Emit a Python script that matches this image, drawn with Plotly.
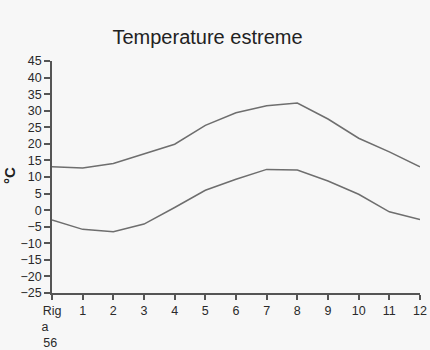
import plotly.graph_objects as go

months = [0, 1, 2, 3, 4, 5, 6, 7, 8, 9, 10, 11, 12]
tick_labels = ["Rig<br>a\u00a0\u00a0\u00a0\u00a0<br>56\u00a0", "1", "2", "3", "4", "5", "6", "7", "8", "9", "10", "11", "12"]
t_max = [13.1, 12.7, 14.1, 17.0, 19.9, 25.6, 29.4, 31.5, 32.3, 27.5, 21.7, 17.6, 13.1]
t_min = [-3.0, -5.8, -6.5, -4.2, 0.8, 6.0, 9.3, 12.3, 12.1, 8.8, 4.8, -0.5, -2.8]
y_ticks = list(range(-25, 50, 5))

font_family = "Liberation Sans, Arial, sans-serif"
line_color = "#6e6e6e"
axis_color = "#555555"

W, H = 430, 350
fig = go.Figure()
fig.add_trace(go.Scatter(x=months, y=t_max, mode="lines",
                         line=dict(color=line_color, width=1.5), showlegend=False))
fig.add_trace(go.Scatter(x=months, y=t_min, mode="lines",
                         line=dict(color=line_color, width=1.5), showlegend=False))

fig.update_layout(
    width=W, height=H,
    margin=dict(l=52, r=10, t=61, b=57),
    paper_bgcolor="#f7f7f7", plot_bgcolor="#f7f7f7",
    font=dict(family=font_family, size=12.5, color="#2a2a2a"),
    title=dict(text="Temperature estreme", x=207.5 / W, xanchor="center",
               y=1 - 37 / H, yanchor="middle", yref="container",
               font=dict(size=20, color="#222222")),
    xaxis=dict(range=[0, 12], tickvals=months, ticktext=tick_labels,
               showgrid=False, zeroline=False, showline=True, linecolor=axis_color,
               linewidth=1.5, ticks="outside", ticklen=5, tickcolor=axis_color,
               tickwidth=1.5, tickangle=0, automargin=False),
    yaxis=dict(range=[-25, 45], tickvals=y_ticks, showgrid=False, zeroline=False,
               showline=True, linecolor=axis_color, linewidth=1.5, ticks="outside",
               ticklen=6, tickcolor=axis_color, tickwidth=1.5, automargin=False),
    annotations=[dict(text="<b>°C</b>", xref="paper", yref="paper",
                      x=-(52 - 9) / 368, y=(293 - 176) / 232, textangle=-90,
                      showarrow=False, xanchor="center", yanchor="middle",
                      font=dict(size=15, color="#222222"))],
)

fig.write_html(
    "out.html",
    config={"displayModeBar": False},
    post_script="document.body.style.margin='0';document.body.style.overflow='hidden';"
                "document.body.style.background='#f7f7f7';",
)
